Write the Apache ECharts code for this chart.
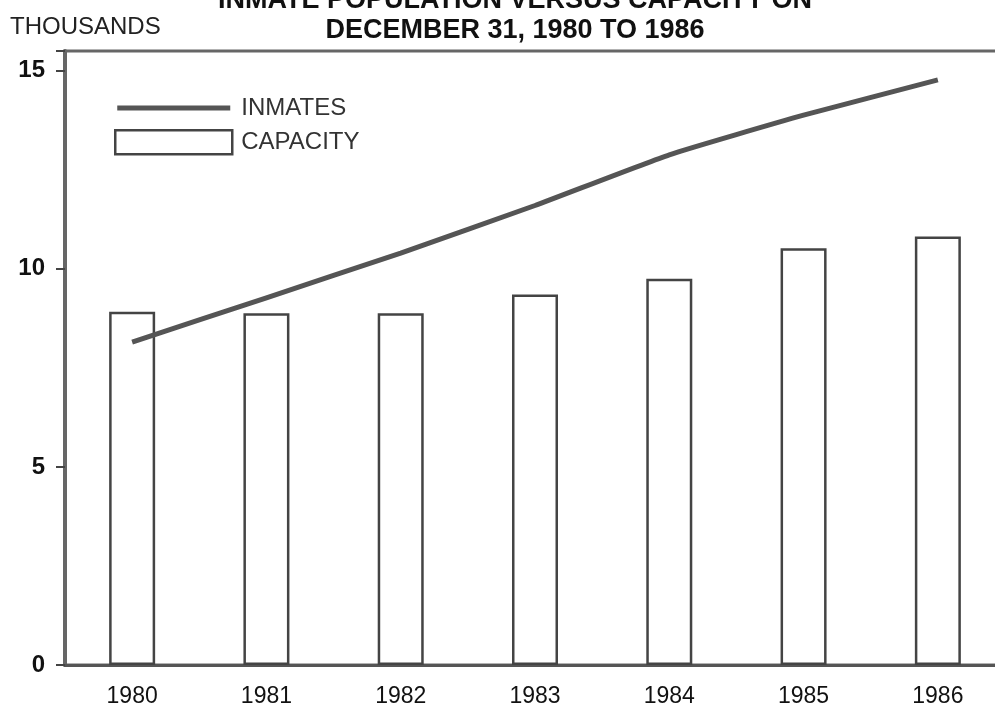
<!DOCTYPE html>
<html>
<head>
<meta charset="utf-8">
<script src="https://cdn.jsdelivr.net/npm/echarts@6/dist/echarts.min.js"></script>
<style>
html,body{margin:0;padding:0;background:#fff;overflow:hidden;}
#chart{width:1005px;height:721px;}
</style>
</head>
<body>
<div id="chart"></div>
<script>
const categories = ['1980','1981','1982','1983','1984','1985','1986'];
const inmates = [8.15, 9.27, 10.4, 11.6, 12.88, 13.88, 14.77];
const capacity = [8.92, 8.88, 8.88, 9.35, 9.75, 10.52, 10.82];
const yTicks = [0, 5, 10, 15];

const chart = echarts.init(document.getElementById('chart'));
const font = '"Liberation Sans", Arial, sans-serif';
const lineIcon = 'path://M0,0L0.05,0L0.05,0.05L0,0.05Z M2,9.5L115,9.5L115,14.5L2,14.5Z M116.95,23.95L117,23.95L117,24L116.95,24Z';
chart.setOption({
  animation: false,
  backgroundColor: '#fff',
  title: {
    text: 'INMATE POPULATION VERSUS CAPACITY ON\nDECEMBER 31, 1980 TO 1986',
    left: 510,
    textAlign: 'center',
    top: -19,
    textStyle: {fontFamily: font, fontWeight: 'bold', fontSize: 27, lineHeight: 30, color: '#111'}
  },
  graphic: [{
    type: 'text', left: 10, top: 15,
    style: {text: 'THOUSANDS', font: '24px "Liberation Sans", Arial, sans-serif', fill: '#222'}
  }],
  legend: {
    orient: 'vertical',
    left: 109, top: 91,
    itemWidth: 117, itemHeight: 24, itemGap: 9,
    textStyle: {fontFamily: font, fontSize: 24, color: '#333', padding: [0,0,0,4]},
    data: [
      {name: 'INMATES', icon: lineIcon, itemStyle: {color: '#555', borderWidth: 0}},
      {name: 'CAPACITY', icon: 'rect', itemStyle: {color: '#fff', borderColor: '#444', borderWidth: 2.5}}
    ]
  },
  grid: {
    left: 65, top: 51, right: 0, bottom: 56,
    show: true, borderColor: '#666', borderWidth: 3, backgroundColor: 'transparent'
  },
  xAxis: {
    type: 'category',
    data: categories,
    boundaryGap: true,
    axisLine: {lineStyle: {color: '#555', width: 3}},
    axisTick: {alignWithLabel: true, length: 15, lineStyle: {color: '#444', width: 2}},
    axisLabel: {fontFamily: font, fontSize: 23, color: '#111', margin: 20}
  },
  yAxis: {
    type: 'value',
    min: 0, max: 15.5, interval: 5,
    splitLine: {show: false},
    axisLine: {show: true, lineStyle: {color: '#666', width: 4}},
    axisTick: {show: true, length: 9, lineStyle: {color: '#444', width: 2}},
    axisLabel: {
      fontFamily: font, fontSize: 24, fontWeight: 'bold', color: '#111', margin: 20,
      formatter: v => (yTicks.indexOf(v) >= 0 ? String(v) : '')
    }
  },
  series: [
    {
      name: 'CAPACITY', type: 'bar', data: capacity, barWidth: 46,
      itemStyle: {color: '#fff', borderColor: '#444', borderWidth: 2.5}
    },
    {
      name: 'INMATES', type: 'line', data: inmates, symbol: 'none', smooth: 0.15,
      itemStyle: {color: '#555'},
      lineStyle: {color: '#555', width: 5}, z: 5
    }
  ]
});
</script>
</body>
</html>
